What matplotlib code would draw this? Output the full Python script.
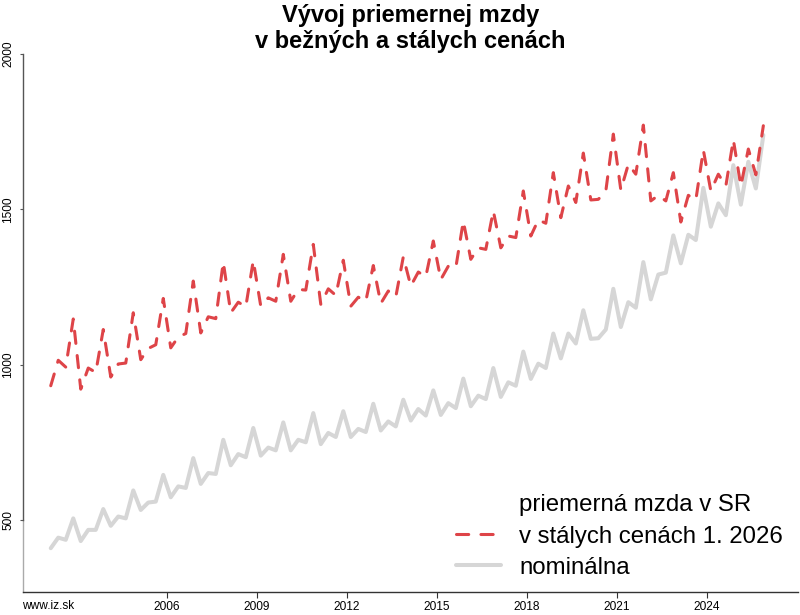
import numpy as np
import matplotlib
matplotlib.use('Agg')
import matplotlib.pyplot as plt
from matplotlib.lines import Line2D

plt.rcParams['font.family'] = ['Liberation Sans', 'DejaVu Sans']

# quarterly average wage, 2002 Q1 .. 2025 Q4 (EUR)
start_year = 2002
nominal = [409, 443, 436, 505,
           432, 468, 468, 535,
           481, 511, 505, 595,
           532, 556, 559, 645,
           573, 608, 603, 699,
           616, 651, 648, 758,
           676, 712, 702, 796,
           707, 733, 724, 814,
           724, 758, 750, 844,
           744, 780, 767, 850,
           767, 793, 783, 874,
           788, 817, 801, 887,
           820, 857, 836, 917,
           838, 876, 860, 955,
           866, 900, 889, 989,
           896, 943, 932, 1042,
           954, 1003, 989, 1100,
           1020, 1100, 1068, 1175,
           1083, 1085, 1113, 1244,
           1121, 1201, 1183, 1330,
           1210, 1290, 1296, 1416,
           1326, 1418, 1401, 1569,
           1444, 1519, 1481, 1642,
           1515, 1653, 1567, 1739]
# in constant prices of 1/2026
real = [932, 1014, 992, 1147,
        921, 989, 975, 1113,
        960, 1002, 1005, 1167,
        1016, 1052, 1064, 1213,
        1054, 1089, 1100, 1269,
        1102, 1154, 1148, 1330,
        1167, 1201, 1186, 1335,
        1188, 1215, 1204, 1355,
        1204, 1242, 1240, 1387,
        1194, 1244, 1223, 1336,
        1188, 1217, 1204, 1319,
        1197, 1237, 1218, 1347,
        1253, 1298, 1283, 1398,
        1274, 1317, 1312, 1462,
        1339, 1376, 1371, 1495,
        1376, 1414, 1409, 1559,
        1414, 1466, 1455, 1618,
        1473, 1575, 1522, 1681,
        1530, 1532, 1559, 1742,
        1562, 1645, 1613, 1771,
        1527, 1545, 1527, 1618,
        1459, 1545, 1530, 1691,
        1559, 1613, 1575, 1724,
        1575, 1694, 1611, 1769]

x_ticks = [2006, 2009, 2012, 2015, 2018, 2021, 2024]
y_ticks = [500, 1000, 1500, 2000]
labels = ['priemerná mzda v SR', 'v stálych cenách 1. 2026', 'nominálna']

x = start_year + np.arange(len(nominal)) / 4 + 0.125

W, H = 800, 615
fig = plt.figure(figsize=(W / 100, H / 100), dpi=100)
ax = fig.add_axes([23 / W, (H - 592) / H, (798 - 23) / W, (592 - 40) / H])

gray_line, = ax.plot(x, nominal, color='#d6d6d6', lw=2.9,
                     solid_joinstyle='round', solid_capstyle='round', zorder=2)
red_line, = ax.plot(x, real, color='#de4448', lw=2.2, linestyle=(0, (4, 4)),
                    dash_capstyle='round', dash_joinstyle='round', zorder=3)

ax.set_xlim(2001.2, 2027.03)
ax.set_ylim(268, 2045)

ax.set_xticks(x_ticks)
ax.set_xticklabels([str(t) for t in x_ticks])
ax.set_yticks(y_ticks)
ax.set_yticklabels([str(t) for t in y_ticks], rotation=90, va='center')

ax.tick_params(axis='x', length=4.3, width=0.8, color='#333333', labelsize=8.6, pad=2)
ax.tick_params(axis='y', length=2.2, width=0.8, color='#555555', labelsize=8.6, pad=4)

for s in ['top', 'right']:
    ax.spines[s].set_visible(False)
ax.spines['left'].set_bounds(500, 2000)
ax.spines['left'].set_color('#555555')
ax.spines['left'].set_linewidth(1.0)
ax.spines['bottom'].set_color('#333333')
ax.spines['bottom'].set_linewidth(1.0)
ax.plot([0, 0], [268, 500], transform=ax.get_yaxis_transform(), color='#aaaaaa',
        lw=1.0, clip_on=False, zorder=1)

blank = Line2D([], [], linestyle='none')
ax.legend([blank, red_line, gray_line], labels, loc='lower right',
          bbox_to_anchor=((783 - 23) / 775, 0.024), frameon=False, fontsize=17.3,
          handlelength=1.9, handletextpad=0.75, labelspacing=0.38,
          borderaxespad=0, borderpad=0)

fig.text(410.5 / W, 1 - 28.5 / H, 'Vývoj priemernej mzdy\nv bežných a stálych cenách',
         ha='center', va='center', fontsize=17, fontweight='bold', linespacing=1.2)
fig.text(22 / W, 1 - 606 / H, 'www.iz.sk', ha='left', va='center', fontsize=8.6)

fig.savefig('out.png', dpi=100)
